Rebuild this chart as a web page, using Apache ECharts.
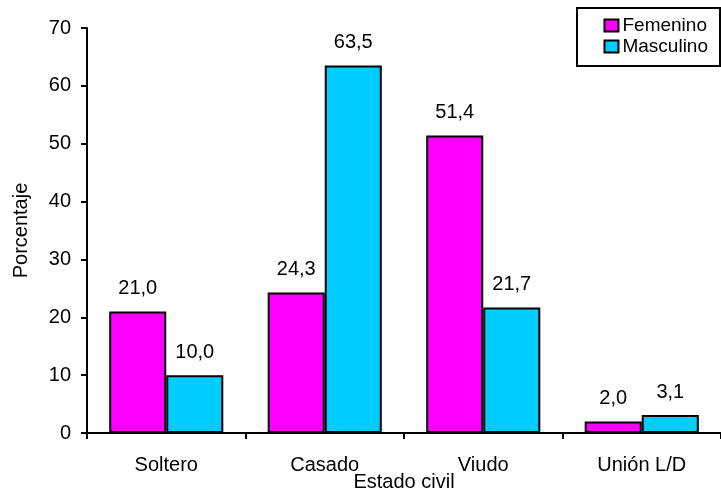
<!DOCTYPE html>
<html>
<head>
<meta charset="utf-8">
<script src="https://cdn.jsdelivr.net/npm/echarts@6/dist/echarts.min.js"></script>
<style>
  html, body { margin: 0; padding: 0; background: #fff; }
  #chart { width: 721px; height: 494px; }
</style>
</head>
<body>
<div id="chart"></div>
<script>
// Distribución porcentual por estado civil y sexo
const categories = ['Soltero', 'Casado', 'Viudo', 'Unión L/D'];
const femenino = [21.0, 24.3, 51.4, 2.0];
const masculino = [10.0, 63.5, 21.7, 3.1];
const yTicks = [0, 10, 20, 30, 40, 50, 60, 70];

const FONT = "'Liberation Sans', Arial, sans-serif";
const FS = 20;
const fmt = v => v.toFixed(1).replace('.', ',');

const chart = echarts.init(document.getElementById('chart'), null, { renderer: 'canvas' });

const labelStyle = {
  show: true,
  position: 'top',
  distance: 13,
  color: '#000',
  fontFamily: FONT,
  fontSize: FS,
  formatter: p => fmt(p.value)
};

chart.setOption({
  animation: false,
  backgroundColor: '#fff',
  textStyle: { fontFamily: FONT },
  grid: { left: 87, right: 0, top: 28, bottom: 61, containLabel: false, outerBoundsMode: 'none' },
  legend: {
    right: 13,
    top: 16,
    padding: 0,
    orient: 'vertical',
    icon: 'rect',
    itemWidth: 14,
    itemHeight: 12,
    itemGap: 2,
    itemStyle: { borderColor: '#000', borderWidth: 2 },
    textStyle: { fontFamily: FONT, fontSize: 19, lineHeight: 19, color: '#000', padding: [0, 0, 0, -1] },
    data: ['Femenino', 'Masculino']
  },
  graphic: [{
    type: 'rect',
    shape: { x: 577, y: 8, width: 143, height: 58 },
    style: { fill: 'none', stroke: '#000', lineWidth: 2 },
    z: 10
  }],
  xAxis: {
    type: 'category',
    data: categories,
    name: 'Estado civil',
    nameLocation: 'middle',
    nameGap: 39,
    nameMoveOverlap: false,
    nameTextStyle: { fontFamily: FONT, fontSize: FS, color: '#000' },
    axisLine: { lineStyle: { color: '#000', width: 2 } },
    axisTick: { show: true, inside: false, length: 6, lineStyle: { color: '#000', width: 2 } },
    axisLabel: { color: '#000', fontFamily: FONT, fontSize: FS, margin: 22 },
    splitLine: { show: false }
  },
  yAxis: {
    type: 'value',
    min: 0,
    max: 70,
    interval: 10,
    name: 'Porcentaje',
    nameLocation: 'middle',
    nameGap: 56,
    nameMoveOverlap: false,
    nameRotate: 90,
    nameTextStyle: { fontFamily: FONT, fontSize: FS, color: '#000' },
    axisLine: { show: true, lineStyle: { color: '#000', width: 2 } },
    axisTick: { show: true, length: 6, lineStyle: { color: '#000', width: 2 } },
    axisLabel: {
      color: '#000', fontFamily: FONT, fontSize: FS, margin: 16,
      formatter: v => yTicks.includes(v) ? String(v) : ''
    },
    splitLine: { show: false }
  },
  series: [
    {
      name: 'Femenino',
      type: 'bar',
      data: femenino,
      barGap: '0%',
      barCategoryGap: '28%',
      itemStyle: { color: '#ff00ff', borderColor: '#000', borderWidth: 2 },
      label: labelStyle
    },
    {
      name: 'Masculino',
      type: 'bar',
      data: masculino,
      barGap: '0%',
      barCategoryGap: '28%',
      itemStyle: { color: '#00ccff', borderColor: '#000', borderWidth: 2 },
      label: labelStyle
    }
  ]
});
</script>
</body>
</html>
